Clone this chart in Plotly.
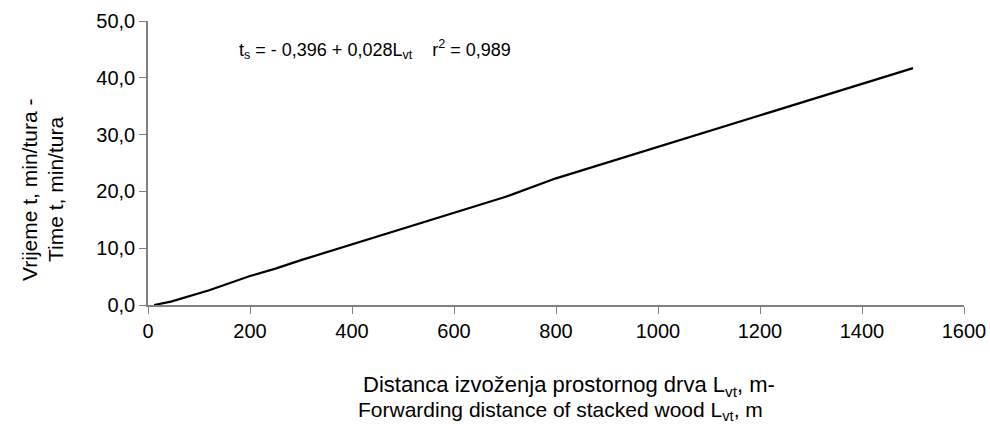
import plotly.graph_objects as go

# Forwarding distance (m) and time per turn (min)
distance_m = [12, 45, 120, 200, 250, 300, 700, 800, 1500]
time_min = [0.0, 0.6, 2.6, 5.1, 6.4, 7.9, 19.0, 22.3, 41.7]

x_ticks = [0, 200, 400, 600, 800, 1000, 1200, 1400, 1600]
y_ticks = [0, 10, 20, 30, 40, 50]
y_tick_labels = ["0,0", "10,0", "20,0", "30,0", "40,0", "50,0"]

FONT = "Liberation Sans, Arial, sans-serif"
AXIS_COLOR = "#808080"

L, R, T, B = 148, 26, 21, 130
W, H = 990, 435

fig = go.Figure()
fig.add_trace(go.Scatter(
    x=distance_m, y=time_min, mode="lines",
    line=dict(color="black", width=2.2),
    showlegend=False, hoverinfo="skip",
))

fig.update_layout(
    width=W, height=H,
    margin=dict(l=L, r=R, t=T, b=B, autoexpand=False),
    paper_bgcolor="white", plot_bgcolor="white",
    font=dict(family=FONT, size=20, color="black"),
    xaxis=dict(
        range=[0, 1600], tickvals=x_ticks, ticks="outside", ticklen=7,
        tickcolor=AXIS_COLOR, showline=True, linecolor=AXIS_COLOR, linewidth=1.5,
        showgrid=False, zeroline=False, tickfont=dict(size=20), automargin=False,
    ),
    yaxis=dict(
        range=[0, 50], tickvals=y_ticks, ticktext=y_tick_labels, ticks="outside",
        ticklen=7, tickcolor=AXIS_COLOR, showline=True, linecolor=AXIS_COLOR,
        linewidth=1.5, showgrid=False, zeroline=False, tickfont=dict(size=20),
        automargin=False,
    ),
)


def px_x(px):
    return (px - L) / (W - L - R)


def px_y(py):
    return (H - B - py) / (H - B - T)


# Regression equation
fig.add_annotation(
    x=px_x(237), y=px_y(50), xref="paper", yref="paper", showarrow=False,
    text="t<sub>s</sub> = - 0,396 + 0,028L<sub>vt</sub>    r<sup>2</sup> = 0,989",
    xanchor="left", yanchor="middle", font=dict(size=18),
)

# X axis title (two lines)
fig.add_annotation(
    x=px_x(569), y=px_y(386), xref="paper", yref="paper", showarrow=False,
    text="Distanca izvoženja prostornog drva L<sub>vt</sub>, m-",
    xanchor="center", yanchor="middle", font=dict(size=22),
)
fig.add_annotation(
    x=px_x(560), y=px_y(411), xref="paper", yref="paper", showarrow=False,
    text="Forwarding distance of stacked wood L<sub>vt</sub>, m",
    xanchor="center", yanchor="middle", font=dict(size=21),
)

# Y axis title (two rotated lines)
fig.add_annotation(
    x=px_x(29), y=px_y(190), xref="paper", yref="paper", showarrow=False,
    text="Vrijeme t, min/tura -", textangle=-90,
    xanchor="center", yanchor="middle", font=dict(size=21),
)
fig.add_annotation(
    x=px_x(55), y=px_y(190), xref="paper", yref="paper", showarrow=False,
    text="Time t, min/tura", textangle=-90,
    xanchor="center", yanchor="middle", font=dict(size=21),
)

fig.write_html("out.html")
